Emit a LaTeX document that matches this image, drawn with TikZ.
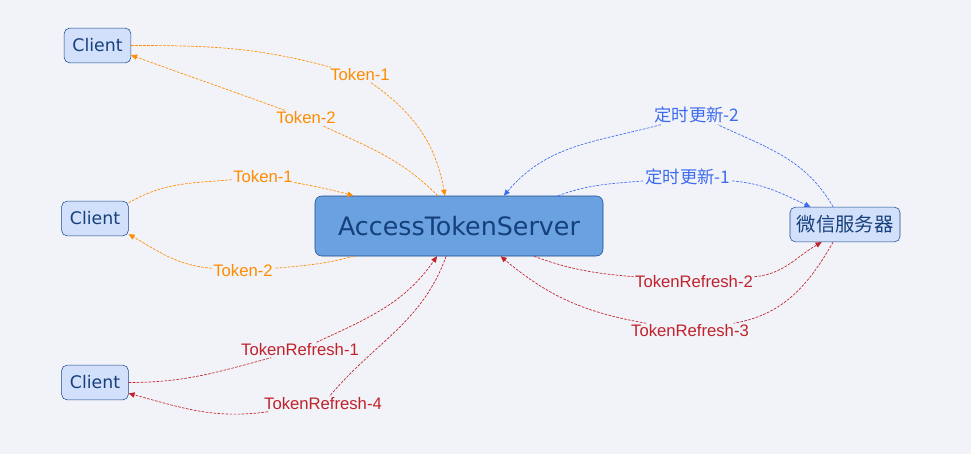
\documentclass[tikz,border=0pt]{standalone}
\usepackage{fontspec}
\setmainfont{DejaVu Sans}
\newfontfamily\lblfont{Liberation Sans}
\newfontfamily\cjk{Noto Sans CJK SC}
\usetikzlibrary{arrows.meta}
\definecolor{BgGray}{RGB}{242,243,249}
\definecolor{ClientFill}{RGB}{210,224,251}
\definecolor{ServerFill}{RGB}{106,161,224}
\definecolor{NodeBorder}{RGB}{24,72,140}
\definecolor{NodeText}{RGB}{22,64,124}
\definecolor{TokOrange}{RGB}{255,140,0}
\definecolor{TokRed}{RGB}{192,34,43}
\definecolor{TokBlue}{RGB}{61,107,240}
\begin{document}
\begin{tikzpicture}[x=0.75pt,y=0.75pt,
  client/.style={draw=NodeBorder,rounded corners=4pt,fill=ClientFill,text=NodeText,inner sep=0pt,minimum width=50pt,minimum height=26pt,font=\fontsize{13}{15}\selectfont},
  server/.style={draw=NodeBorder,rounded corners=5pt,fill=ServerFill,text=NodeText,inner sep=0pt,minimum width=216pt,minimum height=45pt,font=\fontsize{19}{22}\selectfont},
  wxbox/.style={client,minimum width=82.5pt,font=\cjk\fontsize{14.5}{16}\selectfont},
  lbl/.style={fill=BgGray,inner sep=1pt,font=\lblfont\fontsize{12.5}{14}\selectfont},
  flow/.style={dash pattern=on 2pt off 1pt,line width=0.5pt,-{Triangle[length=4.5pt,width=4pt]}}]
\fill[BgGray] (0,0) rectangle (971,-454);
% nodes
\node[client] (c1) at (97.5,-45.5) {Client};
\node[client] (c2) at (95,-218.5) {Client};
\node[client] (c3) at (95,-382.5) {Client};
\node[server] (s) at (459,-226) {AccessTokenServer};
\node[wxbox] (wx) at (845,-224.5) {微信服务器};
% labels
\node[lbl,text=TokOrange] (t1a) at (360,-75) {Token-1};
\node[lbl,text=TokOrange] (t2a) at (306,-118) {Token-2};
\node[lbl,text=TokOrange] (t1b) at (263,-177) {Token-1};
\node[lbl,text=TokOrange] (t2b) at (243,-271) {Token-2};
\node[lbl,text=TokRed] (r1) at (300,-350) {TokenRefresh-1};
\node[lbl,text=TokRed] (r4) at (323,-404) {TokenRefresh-4};
\node[lbl,text=TokBlue,font=\cjk\fontsize{13}{15}\selectfont] (u1) at (688,-177) {定时更新-1};
\node[lbl,text=TokBlue,font=\cjk\fontsize{13}{15}\selectfont] (u2) at (697,-115) {定时更新-2};
\node[lbl,text=TokRed] (r2) at (694,-282) {TokenRefresh-2};
\node[lbl,text=TokRed] (r3) at (690,-331) {TokenRefresh-3};
% connectors
\draw[flow,TokOrange] (c1.east) to[out=0,in=165] (t1a) to[out=-35,in=100] (s.115);
\draw[flow,TokOrange] (s.125) to[out=135,in=-25] (t2a) to[out=160,in=-20] (c1.-16);
\draw[flow,TokOrange] (c2.25) to[out=30,in=185] (t1b) to[out=-10,in=165] (s.164);
\draw[flow,TokOrange] (s.196) to[out=195,in=5] (t2b) to[out=175,in=-30] (c2.-25);
\draw[flow,TokRed] (c3.east) to[out=0,in=195] (r1) to[out=25,in=235] (s.234);
\draw[flow,TokRed] (s.247) to[out=250,in=50] (r4) to[out=188,in=-15] (c3.-18);
\draw[flow,TokBlue] (s.17) to[out=20,in=185] (u1) to[out=-5,in=155] (wx.153);
\draw[flow,TokBlue] (wx.124) to[out=120,in=-25] (u2) to[out=195,in=50] (s.34);
\draw[flow,TokRed] (s.-22) to[out=-20,in=175] (r2) to[out=5,in=210] (wx.217);
\draw[flow,TokRed] (wx.236) to[out=240,in=10] (r3) to[out=170,in=-40] (s.-36);
\end{tikzpicture}
\end{document}
